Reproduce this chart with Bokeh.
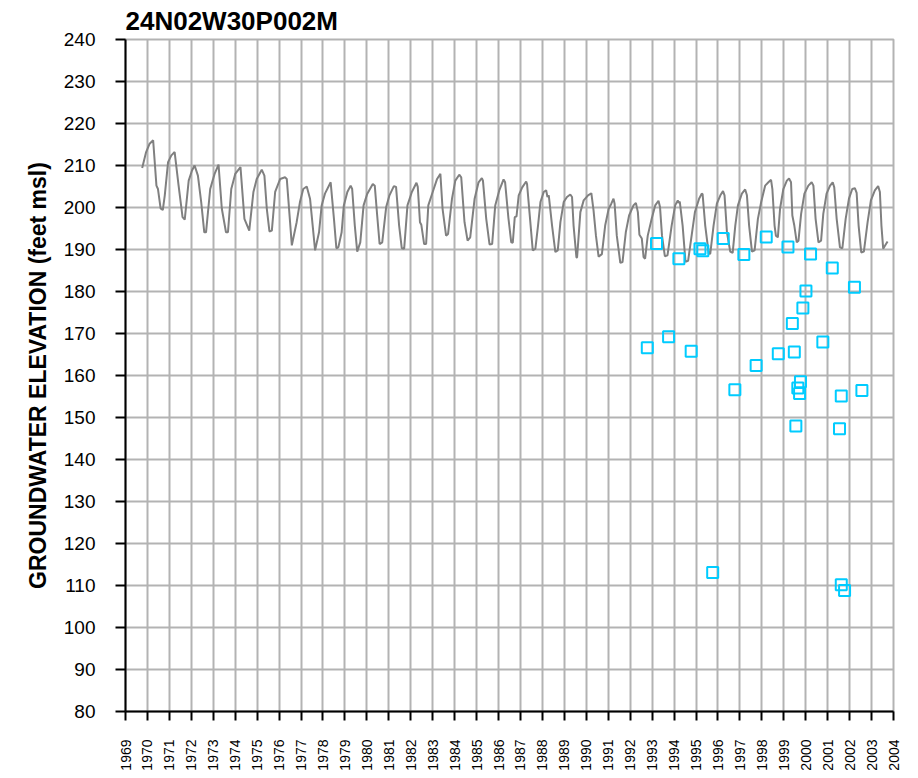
import math
from bokeh.plotting import figure
from bokeh.models import Range1d, FixedTicker, ColumnDataSource
from bokeh.embed import file_html
from bokeh.resources import INLINE

# ---- data ----
title_text = "24N02W30P002M"
y_label = "GROUNDWATER ELEVATION (feet msl)"
year_ticks = list(range(1969, 2005))
elev_ticks = list(range(80, 250, 10))

line_year = [
    1969.76, 1969.94, 1970.10, 1970.26, 1970.41, 1970.48, 1970.60, 1970.70, 1970.79, 1970.94,
    1971.09, 1971.24, 1971.42, 1971.60, 1971.70, 1971.88, 1972.03, 1972.15, 1972.30, 1972.45,
    1972.59, 1972.67, 1972.86, 1973.06, 1973.24, 1973.39, 1973.58, 1973.67, 1973.82, 1974.00,
    1974.24, 1974.42, 1974.64, 1974.83, 1974.98, 1975.21, 1975.33, 1975.44, 1975.56, 1975.67,
    1975.82, 1976.05, 1976.27, 1976.35, 1976.50, 1976.58, 1976.80, 1976.95, 1977.10, 1977.26,
    1977.41, 1977.64, 1977.82, 1977.94, 1978.09, 1978.35, 1978.50, 1978.61, 1978.70, 1978.85,
    1978.95, 1979.11, 1979.26, 1979.33, 1979.45, 1979.56, 1979.70, 1979.85, 1980.02, 1980.27,
    1980.36, 1980.47, 1980.58, 1980.70, 1980.88, 1981.03, 1981.23, 1981.33, 1981.47, 1981.59,
    1981.70, 1981.85, 1982.05, 1982.26, 1982.32, 1982.42, 1982.48, 1982.61, 1982.70, 1982.80,
    1983.00, 1983.20, 1983.35, 1983.45, 1983.61, 1983.70, 1983.88, 1984.03, 1984.21, 1984.30,
    1984.45, 1984.59, 1984.71, 1984.91, 1985.09, 1985.24, 1985.29, 1985.44, 1985.59, 1985.71,
    1985.85, 1986.03, 1986.23, 1986.30, 1986.45, 1986.58, 1986.65, 1986.74, 1986.82, 1986.92,
    1987.08, 1987.26, 1987.30, 1987.41, 1987.56, 1987.68, 1987.80, 1987.91, 1988.06, 1988.17,
    1988.23, 1988.29, 1988.44, 1988.59, 1988.70, 1988.82, 1988.97, 1989.12, 1989.27, 1989.35,
    1989.42, 1989.55, 1989.58, 1989.73, 1989.88, 1990.08, 1990.23, 1990.33, 1990.44, 1990.56,
    1990.71, 1990.86, 1991.02, 1991.14, 1991.24, 1991.29, 1991.39, 1991.55, 1991.65, 1991.80,
    1991.95, 1992.15, 1992.26, 1992.35, 1992.42, 1992.53, 1992.61, 1992.68, 1992.80, 1992.98,
    1993.14, 1993.29, 1993.36, 1993.45, 1993.58, 1993.70, 1993.89, 1994.05, 1994.17, 1994.20,
    1994.26, 1994.39, 1994.52, 1994.64, 1994.80, 1994.95, 1995.14, 1995.26, 1995.30, 1995.42,
    1995.58, 1995.65, 1995.80, 1995.95, 1996.11, 1996.23, 1996.30, 1996.41, 1996.56, 1996.67,
    1996.79, 1996.91, 1997.09, 1997.24, 1997.32, 1997.42, 1997.55, 1997.67, 1997.82, 1997.97,
    1998.15, 1998.30, 1998.42, 1998.48, 1998.58, 1998.64, 1998.73, 1998.83, 1998.98, 1999.14,
    1999.24, 1999.33, 1999.39, 1999.48, 1999.59, 1999.67, 1999.79, 1999.94, 2000.12, 2000.27,
    2000.35, 2000.45, 2000.58, 2000.70, 2000.80, 2000.95, 2001.11, 2001.23, 2001.30, 2001.41,
    2001.56, 2001.67, 2001.82, 2001.97, 2002.12, 2002.24, 2002.32, 2002.41, 2002.53, 2002.65,
    2002.82, 2002.97, 2003.15, 2003.30, 2003.38, 2003.45, 2003.53, 2003.61, 2003.73,
]
line_elev = [
    209.4, 213.2, 215.2, 216.0, 205.2, 204.4, 199.8, 199.4, 202.9, 210.8,
    212.4, 213.2, 205.2, 197.7, 197.1, 206.4, 208.8, 210.0, 207.6, 201.3,
    194.1, 194.1, 204.4, 208.0, 210.2, 199.7, 194.1, 194.1, 204.4, 208.0,
    209.6, 197.3, 194.5, 203.7, 206.8, 209.0, 207.6, 199.7, 194.3, 194.5,
    203.7, 206.8, 207.2, 206.8, 196.5, 191.0, 196.5, 201.3, 204.4, 205.0,
    202.1, 189.8, 194.1, 200.5, 203.3, 206.0, 197.3, 190.3, 190.5, 194.1,
    200.5, 203.7, 205.2, 204.4, 195.7, 189.5, 191.7, 200.5, 203.3, 205.6,
    205.2, 198.1, 191.3, 191.7, 200.1, 202.9, 205.1, 204.9, 195.7, 190.3,
    190.2, 200.5, 203.7, 205.9, 204.9, 196.5, 195.9, 191.3, 191.3, 200.5,
    203.7, 206.8, 208.0, 199.7, 193.3, 193.7, 202.1, 206.4, 207.8, 207.2,
    196.5, 192.1, 192.9, 202.1, 206.0, 207.0, 206.4, 197.3, 191.2, 191.3,
    200.5, 204.0, 206.7, 206.0, 197.5, 191.7, 191.6, 197.7, 197.9, 202.9,
    204.8, 206.2, 205.6, 198.9, 189.8, 190.2, 195.7, 201.3, 203.7, 204.1,
    202.5, 202.9, 195.7, 189.4, 189.8, 196.5, 201.3, 202.5, 203.1, 202.5,
    195.7, 188.1, 188.1, 198.9, 201.7, 202.9, 203.4, 199.3, 193.3, 188.3,
    188.9, 195.7, 199.7, 200.9, 202.1, 200.9, 193.3, 186.8, 187.0, 194.1,
    198.1, 200.5, 201.1, 198.9, 193.5, 192.6, 188.2, 187.8, 193.3, 197.3,
    200.5, 201.6, 200.1, 193.3, 188.4, 188.6, 195.7, 200.5, 201.7, 201.1,
    201.4, 195.7, 187.1, 187.3, 193.3, 198.9, 202.1, 203.3, 203.2, 195.7,
    189.0, 189.0, 195.7, 200.9, 202.9, 203.9, 202.9, 194.1, 189.5, 189.2,
    195.7, 200.5, 203.3, 204.3, 202.9, 195.7, 189.5, 189.8, 197.3, 201.3,
    205.2, 206.0, 206.6, 204.4, 195.7, 193.3, 192.9, 199.7, 204.4, 206.4,
    206.9, 206.0, 198.1, 195.7, 191.7, 192.1, 198.5, 203.3, 205.2, 206.0,
    205.2, 197.3, 191.7, 192.1, 198.5, 203.3, 205.2, 206.0, 204.8, 197.3,
    190.5, 190.3, 197.3, 202.1, 204.4, 204.6, 203.5, 195.7, 189.3, 189.5,
    196.5, 201.7, 204.1, 205.1, 203.7, 195.7, 190.2, 190.9, 191.9,
]

pt_year = [
    1993.20, 1994.22, 1995.18, 1995.31, 1996.24, 1997.18, 1998.20, 1999.19, 2000.22, 2001.21,
    2002.22, 2000.01, 1999.87, 1999.39, 1992.78, 1993.75, 1994.78, 1997.74, 1998.75, 1999.48,
    2000.78, 1996.77, 1999.76, 1999.64, 1999.72, 2001.62, 2002.56, 1999.55, 2001.54, 1995.76,
    2001.62, 2001.77,
]
pt_elev = [
    191.4, 187.8, 190.2, 189.7, 192.6, 188.8, 193.0, 190.6, 188.9, 185.6,
    181.0, 180.1, 176.1, 172.4, 166.6, 169.2, 165.8, 162.4, 165.2, 165.6,
    168.0, 156.6, 158.5, 157.0, 155.7, 155.1, 156.4, 148.0, 147.3, 113.1,
    110.2, 108.8,
]

FONT = "Liberation Sans"
GRID = "#b3b3b3"

p = figure(
    width=908, height=773,
    output_backend="svg", toolbar_location=None,
    x_range=Range1d(1969, 2004), y_range=Range1d(80, 240),
    min_border_left=125, min_border_right=15, min_border_bottom=59, min_border_top=0,
    background_fill_color="white", border_fill_color="white",
)

p.title.text = title_text
p.title.text_font = FONT
p.title.text_font_size = "26px"
p.title.text_font_style = "bold"
p.title.text_color = "black"
p.title.align = "left"
p.title.standoff = 7

p.outline_line_color = GRID
p.outline_line_width = 2

p.xaxis.ticker = FixedTicker(ticks=year_ticks)
p.yaxis.ticker = FixedTicker(ticks=elev_ticks)
p.xgrid.ticker = FixedTicker(ticks=year_ticks)
p.ygrid.ticker = FixedTicker(ticks=elev_ticks)
for g in (p.xgrid, p.ygrid):
    g.grid_line_color = GRID
    g.grid_line_width = 2

for ax in (p.xaxis, p.yaxis):
    ax.axis_line_color = "black"
    ax.axis_line_width = 2
    ax.major_tick_line_color = "black"
    ax.major_tick_line_width = 2
    ax.major_tick_in = 0
    ax.minor_tick_line_color = None
    ax.major_label_text_font = FONT
    ax.major_label_text_color = "black"

p.xaxis.major_tick_out = 9
p.xaxis.major_label_orientation = math.pi / 2
p.xaxis.major_label_text_font_size = "14px"
p.xaxis.major_label_standoff = 19

p.yaxis.major_tick_out = 10
p.yaxis.major_label_text_font_size = "19px"
p.yaxis.major_label_standoff = 20
p.yaxis.axis_label = y_label
p.yaxis.axis_label_text_font = FONT
p.yaxis.axis_label_text_font_size = "23px"
p.yaxis.axis_label_text_font_style = "bold"
p.yaxis.axis_label_text_color = "black"
p.yaxis.axis_label_standoff = 10

line_src = ColumnDataSource(dict(x=line_year, y=line_elev))
pt_src = ColumnDataSource(dict(x=pt_year, y=pt_elev))

p.line("x", "y", source=line_src, line_color="#808080", line_width=2)
p.scatter("x", "y", source=pt_src, marker="square", size=11,
          fill_color=None, line_color="#00CCFF", line_width=2)

open("out.html", "w").write(file_html(p, INLINE))
